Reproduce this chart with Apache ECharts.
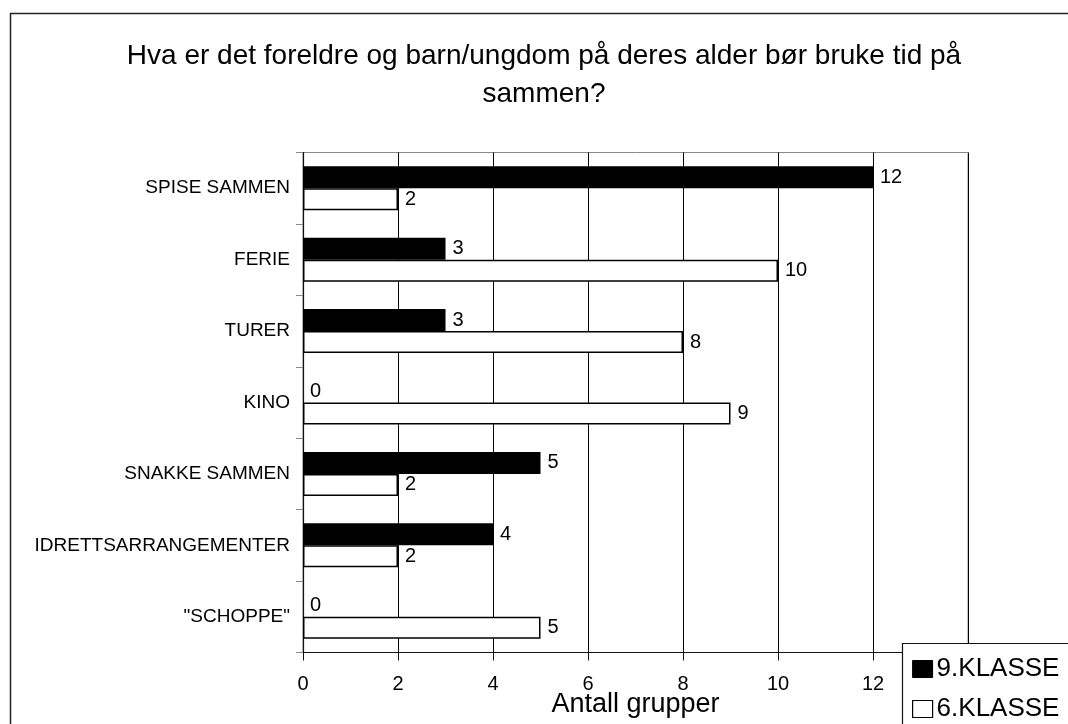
<!DOCTYPE html>
<html>
<head>
<meta charset="utf-8">
<script src="https://cdn.jsdelivr.net/npm/echarts@6/dist/echarts.min.js"></script>
<style>
  html, body { margin: 0; padding: 0; background: #fff; }
  #chart { width: 1068px; height: 724px; }
</style>
</head>
<body>
<div id="chart"></div>
<script>
// Activities, listed top to bottom
const categories = ['SPISE SAMMEN', 'FERIE', 'TURER', 'KINO', 'SNAKKE SAMMEN', 'IDRETTSARRANGEMENTER', '"SCHOPPE"'];
// Number of groups per grade
const klasse9 = [12, 3, 3, 0, 5, 4, 0];
const klasse6 = [2, 10, 8, 9, 2, 2, 5];
const seriesNames = ['9.KLASSE', '6.KLASSE'];
const titleLines = ['Hva er det foreldre og barn/ungdom på deres alder bør bruke tid på', 'sammen?'];
const xAxisName = 'Antall grupper';

const FONT = '"Liberation Sans", Arial, Helvetica, sans-serif';

const chart = echarts.init(document.getElementById('chart'), null, { renderer: 'canvas' });

const valueLabel = {
  show: true,
  position: 'right',
  distance: 7,
  color: '#000',
  fontSize: 20,
  fontFamily: FONT
};

chart.setOption({
  animation: false,
  backgroundColor: '#fff',
  textStyle: { fontFamily: FONT, color: '#000' },
  graphic: [
    {
      type: 'rect',
      z: 0,
      silent: true,
      shape: { x: 10.5, y: 13.5, width: 1100, height: 800 },
      style: { fill: 'none', stroke: '#222', lineWidth: 1.5 }
    },
    {
      type: 'text',
      z: 5,
      x: 544,
      y: 37,
      style: {
        text: titleLines.join('\n'),
        align: 'center',
        verticalAlign: 'top',
        fontSize: 28,
        lineHeight: 38,
        fontFamily: FONT,
        fill: '#000'
      }
    },
    {
      type: 'rect',
      z: 50,
      silent: true,
      shape: { x: 902.5, y: 643.5, width: 300, height: 200 },
      style: { fill: '#fff', stroke: '#111', lineWidth: 1.2 }
    }
  ],
  legend: {
    z: 60,
    orient: 'vertical',
    left: 912,
    top: 656,
    padding: 0,
    itemGap: 14,
    itemWidth: 20,
    itemHeight: 17,
    icon: 'rect',
    selectedMode: false,
    textStyle: { fontSize: 26, lineHeight: 26, color: '#000', fontFamily: FONT, padding: [0, 0, 0, -1] },
    data: [
      { name: seriesNames[0], itemStyle: { color: '#000', borderColor: '#000', borderWidth: 1 } },
      { name: seriesNames[1], itemStyle: { color: '#fff', borderColor: '#000', borderWidth: 1.2 } }
    ]
  },
  grid: {
    left: 303,
    right: 100,
    top: 152.5,
    bottom: 71.5,
    outerBoundsMode: 'none',
    show: true,
    borderColor: '#888',
    borderWidth: 1,
    backgroundColor: '#fff'
  },
  xAxis: {
    type: 'value',
    min: 0,
    max: 14,
    interval: 2,
    name: xAxisName,
    nameLocation: 'middle',
    nameGap: 39,
    nameMoveOverlap: false,
    nameTextStyle: { fontSize: 27, color: '#000', fontFamily: FONT },
    axisLine: { show: true, lineStyle: { color: '#111', width: 1.2 } },
    axisTick: { show: true, length: 8, lineStyle: { color: '#111', width: 1 } },
    axisLabel: {
      fontSize: 20,
      color: '#000',
      margin: 22,
      showMaxLabel: false,
      fontFamily: FONT
    },
    splitLine: { show: true, lineStyle: { color: '#000', width: 1 } }
  },
  yAxis: {
    type: 'category',
    data: categories,
    inverse: true,
    axisLine: { show: true, lineStyle: { color: '#111', width: 1.2 } },
    axisTick: { show: true, length: 7, lineStyle: { color: '#888', width: 1 } },
    axisLabel: { fontSize: 19, color: '#000', margin: 13, fontFamily: FONT },
    splitLine: { show: false }
  },
  series: [
    {
      name: seriesNames[0],
      type: 'bar',
      data: klasse9,
      barWidth: 22,
      barGap: '0%',
      itemStyle: { color: '#000', borderWidth: 0 },
      label: valueLabel
    },
    {
      name: seriesNames[1],
      type: 'bar',
      data: klasse6,
      barWidth: 22,
      barGap: '0%',
      itemStyle: { color: '#fff', borderColor: '#000', borderWidth: 1.5 },
      label: valueLabel
    }
  ]
});
</script>
</body>
</html>
